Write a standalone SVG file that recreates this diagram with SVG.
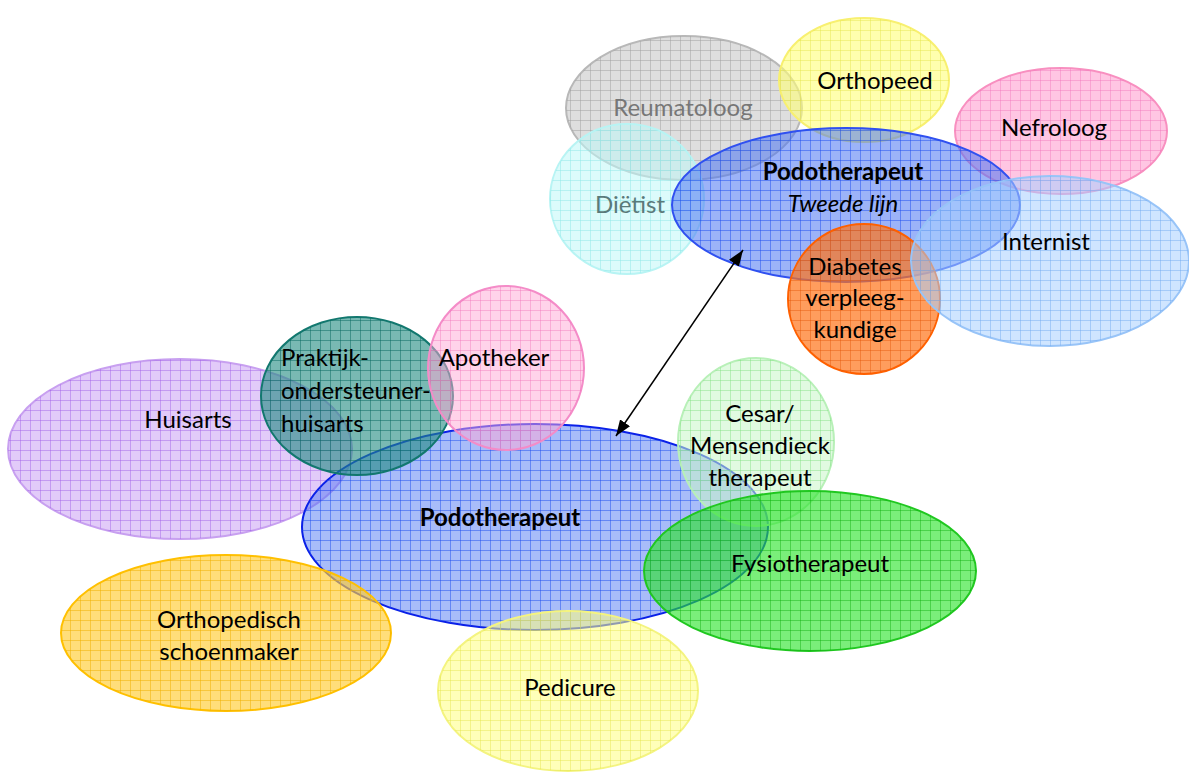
<svg xmlns="http://www.w3.org/2000/svg" width="1189" height="776" viewBox="0 0 1189 776">
<defs>
<pattern id="gBlue" width="10" height="10" patternUnits="userSpaceOnUse"><path d="M0 0.5H10M0.5 0V10" stroke="#2050f0" stroke-opacity="0.5" fill="none"/></pattern>
<pattern id="gPurple" width="10" height="10" patternUnits="userSpaceOnUse"><path d="M0 0.5H10M0.5 0V10" stroke="#a060e8" stroke-opacity="0.45" fill="none"/></pattern>
<pattern id="gTeal" width="10" height="10" patternUnits="userSpaceOnUse"><path d="M0 0.5H10M0.5 0V10" stroke="#0a6a62" stroke-opacity="0.5" fill="none"/></pattern>
<pattern id="gPink" width="10" height="10" patternUnits="userSpaceOnUse"><path d="M0 0.5H10M0.5 0V10" stroke="#f070b8" stroke-opacity="0.4" fill="none"/></pattern>
<pattern id="gLGreen" width="10" height="10" patternUnits="userSpaceOnUse"><path d="M0 0.5H10M0.5 0V10" stroke="#80e080" stroke-opacity="0.45" fill="none"/></pattern>
<pattern id="gGreen" width="10" height="10" patternUnits="userSpaceOnUse"><path d="M0 0.5H10M0.5 0V10" stroke="#10b010" stroke-opacity="0.45" fill="none"/></pattern>
<pattern id="gGold" width="10" height="10" patternUnits="userSpaceOnUse"><path d="M0 0.5H10M0.5 0V10" stroke="#f0b000" stroke-opacity="0.5" fill="none"/></pattern>
<pattern id="gYellow" width="10" height="10" patternUnits="userSpaceOnUse"><path d="M0 0.5H10M0.5 0V10" stroke="#e0e040" stroke-opacity="0.4" fill="none"/></pattern>
<pattern id="gGray" width="10" height="10" patternUnits="userSpaceOnUse"><path d="M0 0.5H10M0.5 0V10" stroke="#a0a0a0" stroke-opacity="0.5" fill="none"/></pattern>
<pattern id="gCyan" width="10" height="10" patternUnits="userSpaceOnUse"><path d="M0 0.5H10M0.5 0V10" stroke="#90e8e8" stroke-opacity="0.5" fill="none"/></pattern>
<pattern id="gLBlue" width="10" height="10" patternUnits="userSpaceOnUse"><path d="M0 0.5H10M0.5 0V10" stroke="#70a8f0" stroke-opacity="0.45" fill="none"/></pattern>
<pattern id="gOrange" width="10" height="10" patternUnits="userSpaceOnUse"><path d="M0 0.5H10M0.5 0V10" stroke="#e05000" stroke-opacity="0.4" fill="none"/></pattern>
<marker id="ah" viewBox="0 0 16 12" refX="16" refY="6" markerWidth="16" markerHeight="12" markerUnits="userSpaceOnUse" orient="auto-start-reverse">
<path d="M0 0L16 6L0 12z" fill="#000"/>
</marker>
</defs>
<style>
text{font-family:Lato,"Open Sans","Liberation Sans",sans-serif;font-size:24px;fill:#000;text-anchor:middle;dominant-baseline:central}
ellipse{stroke-width:2}
.b{font-weight:bold}
.i{font-style:italic}
.l{text-anchor:start}
</style>
<rect width="1189" height="776" fill="#fff"/>
<g id="huisarts"><ellipse cx="180" cy="449" rx="172" ry="90" fill="#c597f4" fill-opacity="0.5" stroke="#c8a0f0"/><ellipse cx="180" cy="449" rx="172" ry="90" fill="url(#gPurple)"/><text x="188" y="418">Huisarts</text></g>
<g id="podotherapeut"><ellipse cx="535" cy="527" rx="233" ry="103" fill="#4a74f2" fill-opacity="0.48" stroke="#0a20e8" stroke-width="2.5"/><ellipse cx="535" cy="527" rx="233" ry="103" fill="url(#gBlue)"/><text class="b" x="500" y="516">Podotherapeut</text></g>
<g id="praktijk"><ellipse cx="357" cy="396" rx="96" ry="79" fill="#1f8a80" fill-opacity="0.6" stroke="#12786f"/><ellipse cx="357" cy="396" rx="96" ry="79" fill="url(#gTeal)"/><text class="l" x="281" y="356">Praktijk-</text><text class="l" x="281" y="389">ondersteuner-</text><text class="l" x="281" y="422">huisarts</text></g>
<g id="apotheker"><ellipse cx="506" cy="368" rx="78" ry="82" fill="#ffa8d6" fill-opacity="0.5" stroke="#f48cc8"/><ellipse cx="506" cy="368" rx="78" ry="82" fill="url(#gPink)"/><text x="494" y="356">Apotheker</text></g>
<g id="cesar"><ellipse cx="756" cy="442" rx="78" ry="84" fill="#c8f5c8" fill-opacity="0.55" stroke="#b8f0b8"/><ellipse cx="756" cy="442" rx="78" ry="84" fill="url(#gLGreen)"/><text x="760" y="412">Cesar/</text><text x="760" y="444">Mensendieck</text><text x="760" y="476">therapeut</text></g>
<g id="fysiotherapeut"><ellipse cx="810" cy="571" rx="166" ry="80" fill="#28e428" fill-opacity="0.62" stroke="#20c820"/><ellipse cx="810" cy="571" rx="166" ry="80" fill="url(#gGreen)"/><text x="810" y="562">Fysiotherapeut</text></g>
<g id="schoenmaker"><ellipse cx="226" cy="633" rx="165" ry="78" fill="#ffcc33" fill-opacity="0.65" stroke="#ffc000"/><ellipse cx="226" cy="633" rx="165" ry="78" fill="url(#gGold)"/><text x="229" y="618">Orthopedisch</text><text x="229" y="650">schoenmaker</text></g>
<g id="pedicure"><ellipse cx="568" cy="691" rx="130" ry="80" fill="#ffff80" fill-opacity="0.55" stroke="#f4f480"/><ellipse cx="568" cy="691" rx="130" ry="80" fill="url(#gYellow)"/><text x="570" y="686">Pedicure</text></g>
<g id="reumatoloog"><ellipse cx="684" cy="108" rx="118" ry="72" fill="#c8c8c8" fill-opacity="0.6" stroke="#b8b8b8"/><ellipse cx="684" cy="108" rx="118" ry="72" fill="url(#gGray)"/><text x="683" y="106" style="fill:#777">Reumatoloog</text></g>
<g id="dietist"><ellipse cx="627" cy="199" rx="77" ry="75" fill="#c0f8f8" fill-opacity="0.55" stroke="#b8f4f4"/><ellipse cx="627" cy="199" rx="77" ry="75" fill="url(#gCyan)"/><text x="630" y="203" style="fill:#5a7a7a">Diëtist</text></g>
<g id="orthopeed"><ellipse cx="864" cy="80" rx="85" ry="62" fill="#ffff78" fill-opacity="0.6" stroke="#f8f070"/><ellipse cx="864" cy="80" rx="85" ry="62" fill="url(#gYellow)"/><text x="875" y="79">Orthopeed</text></g>
<g id="nefroloog"><ellipse cx="1061" cy="131" rx="106" ry="63" fill="#ff98cc" fill-opacity="0.55" stroke="#f890c0"/><ellipse cx="1061" cy="131" rx="106" ry="63" fill="url(#gPink)"/><text x="1054" y="126">Nefroloog</text></g>
<g id="podotherapeut2"><ellipse cx="846" cy="205" rx="174" ry="77" fill="#4a74f2" fill-opacity="0.55" stroke="#3050f0" stroke-width="2.5"/><ellipse cx="846" cy="205" rx="174" ry="77" fill="url(#gBlue)"/><text class="b" x="843" y="170">Podotherapeut</text><text class="i" x="843" y="202">Tweede lijn</text></g>
<g id="diabetes"><ellipse cx="864" cy="299" rx="76" ry="75" fill="#ff7418" fill-opacity="0.7" stroke="#ff6000"/><ellipse cx="864" cy="299" rx="76" ry="75" fill="url(#gOrange)"/><text x="855" y="265">Diabetes</text><text x="855" y="296">verpleeg-</text><text x="855" y="328">kundige</text></g>
<g id="internist"><ellipse cx="1050" cy="261" rx="139" ry="85" fill="#a8d0ff" fill-opacity="0.55" stroke="#98c4f8"/><ellipse cx="1050" cy="261" rx="139" ry="85" fill="url(#gLBlue)"/><text x="1046" y="240">Internist</text></g>
<g id="connectors"><line x1="616" y1="436" x2="743" y2="250" stroke="#000" stroke-width="1.5" marker-start="url(#ah)" marker-end="url(#ah)"/></g>
</svg>
